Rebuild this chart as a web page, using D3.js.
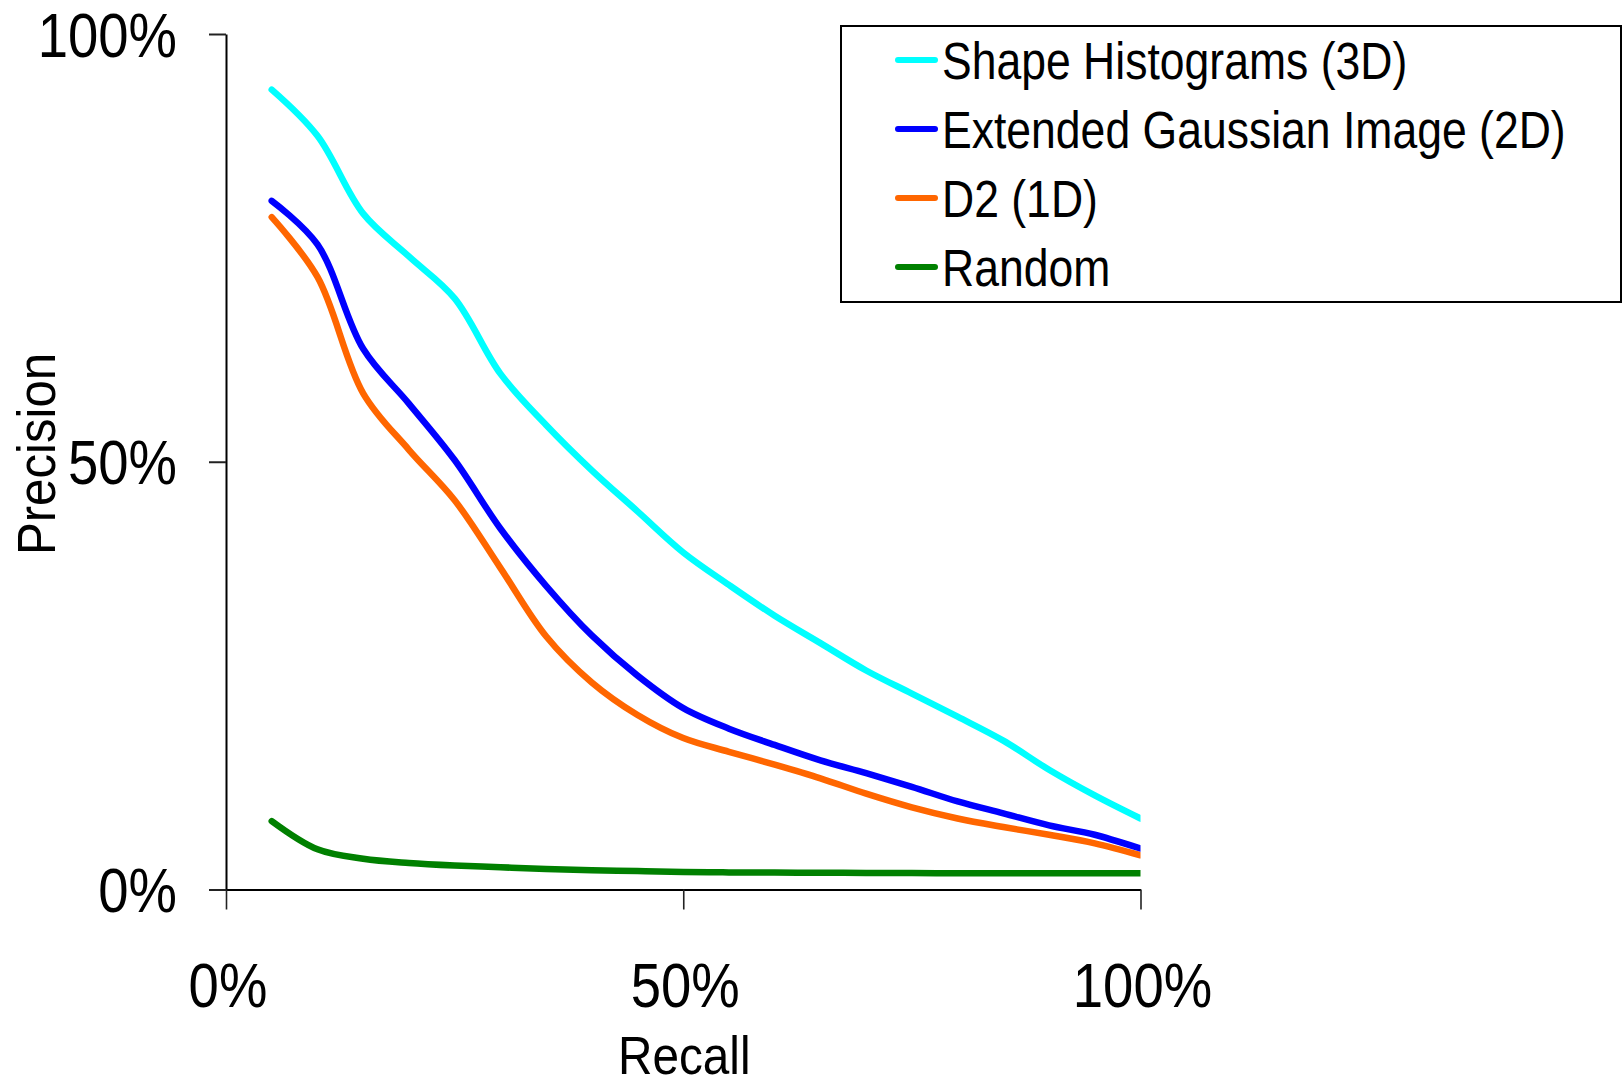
<!DOCTYPE html>
<html>
<head>
<meta charset="utf-8">
<title>Precision / Recall</title>
<script src="https://cdn.jsdelivr.net/npm/d3@7"></script>
<style>
  html, body { margin: 0; padding: 0; background: #ffffff; }
  svg { display: block; }
  text { font-family: "Liberation Sans", Arial, Helvetica, sans-serif; fill: #000; }
</style>
</head>
<body>
<svg id="chart" width="1624" height="1083"></svg>
<script>
// Recall levels (%) at which precision was measured
const recall = [5, 10, 15, 20, 25, 30, 35, 40, 45, 50, 55, 60, 65, 70, 75, 80, 85, 90, 95, 100];

// Precision (%) for each method
const shapeHistograms3D = [93.5, 88.1, 79.0, 74.0, 69.1, 60.3, 54.3, 49.0, 44.2, 39.4, 35.6, 32.0, 28.8, 25.6, 22.9, 20.2, 17.4, 14.0, 11.0, 8.3];
const extendedGaussian2D = [80.5, 75.4, 63.2, 56.8, 50.2, 42.2, 35.5, 29.7, 25.0, 21.2, 18.8, 16.9, 15.1, 13.6, 12.0, 10.3, 8.9, 7.5, 6.4, 4.8];
const d2Distribution1D = [78.6, 71.6, 58.0, 51.4, 45.5, 37.6, 29.6, 24.2, 20.4, 17.7, 16.1, 14.6, 13.0, 11.2, 9.6, 8.3, 7.3, 6.4, 5.4, 4.0];
const randomRetrieval = [8.0, 4.7, 3.6, 3.1, 2.8, 2.6, 2.4, 2.25, 2.15, 2.05, 2.0, 1.98, 1.96, 1.94, 1.92, 1.9, 1.9, 1.9, 1.9, 1.9];

const seriesNames = ["Shape Histograms (3D)", "Extended Gaussian Image (2D)", "D2 (1D)", "Random"];
const seriesColors = ["#00ffff", "#0000ff", "#ff6600", "#008000"];
const seriesValues = [shapeHistograms3D, extendedGaussian2D, d2Distribution1D, randomRetrieval];

// Axis ticks
const xTickValues = [0, 50, 100];
const xTickLabels = ["0%", "50%", "100%"];
const yTickValues = [0, 50, 100];
const yTickLabels = ["0%", "50%", "100%"];

const svg = d3.select("#chart");

const plot = { left: 226, right: 1140.5, top: 34, bottom: 889.5 };
const x = d3.scaleLinear().domain([0, 100]).range([plot.left, plot.right]);
const y = d3.scaleLinear().domain([0, 100]).range([plot.bottom, plot.top]);

const narrow = 0.865; // horizontal squeeze giving the condensed lettering

// Clip so the curves stop flush at the right end of the x axis
svg.append("defs").append("clipPath").attr("id", "plotClip")
  .append("rect")
  .attr("x", 0).attr("y", 0)
  .attr("width", plot.right).attr("height", plot.bottom);

// Y axis
const yAxis = d3.axisLeft(y)
  .tickValues(yTickValues)
  .tickSize(17)
  .tickSizeOuter(0)
  .tickFormat("");
const gy = svg.append("g").attr("transform", `translate(${plot.left},0)`).call(yAxis);
gy.select(".domain").attr("stroke", "#000").attr("stroke-width", 2);
gy.selectAll(".tick line").attr("stroke", "#222").attr("stroke-width", 2);

// X axis
const xAxis = d3.axisBottom(x)
  .tickValues(xTickValues)
  .tickSize(20)
  .tickSizeOuter(0)
  .tickFormat("");
const gx = svg.append("g").attr("transform", `translate(0,${plot.bottom})`).call(xAxis);
gx.select(".domain").attr("stroke", "#000").attr("stroke-width", 2);
gx.selectAll(".tick line").attr("stroke", "#222").attr("stroke-width", 1.6);

// Tick labels
svg.append("g").selectAll("text")
  .data(yTickValues)
  .join("text")
  .attr("transform", (d) => `translate(177,${y(d) + 22.5}) scale(${narrow},1)`)
  .attr("text-anchor", "end")
  .style("font-size", "63px")
  .text((d, i) => yTickLabels[i]);

svg.append("g").selectAll("text")
  .data(xTickValues)
  .join("text")
  .attr("transform", (d) => `translate(${x(d) + 2},1007) scale(${narrow},1)`)
  .attr("text-anchor", "middle")
  .style("font-size", "63px")
  .text((d, i) => xTickLabels[i]);

// Axis titles
svg.append("text")
  .attr("transform", `translate(${x(50) + 1},1074) scale(0.9,1)`)
  .attr("text-anchor", "middle")
  .style("font-size", "53px")
  .text("Recall");

svg.append("text")
  .attr("transform", `translate(55,454) rotate(-90) scale(0.91,1)`)
  .attr("text-anchor", "middle")
  .style("font-size", "54px")
  .text("Precision");

// Precision-recall curves
const line = d3.line()
  .x((d) => x(d[0]))
  .y((d) => y(d[1]))
  .curve(d3.curveCatmullRom.alpha(0.5));

const curves = svg.append("g").attr("clip-path", "url(#plotClip)");
// Draw from the bottom series up so the upper curves sit on top
for (let s = seriesValues.length - 1; s >= 0; s--) {
  const pts = recall.map((r, i) => [r, seriesValues[s][i]]);
  curves.append("path")
    .attr("d", line(pts))
    .attr("fill", "none")
    .attr("stroke", seriesColors[s])
    .attr("stroke-width", 6.5)
    .attr("stroke-linecap", "round")
    .attr("stroke-linejoin", "round");
}

// Legend
const legend = svg.append("g");
legend.append("rect")
  .attr("x", 841).attr("y", 26)
  .attr("width", 780).attr("height", 276)
  .attr("fill", "#fff")
  .attr("stroke", "#000")
  .attr("stroke-width", 2);

const rows = legend.selectAll("g.row")
  .data(seriesNames)
  .join("g")
  .attr("class", "row")
  .attr("transform", (d, i) => `translate(0,${79 + i * 69})`);

rows.append("line")
  .attr("x1", 898).attr("x2", 935)
  .attr("y1", -19).attr("y2", -19)
  .attr("stroke", (d, i) => seriesColors[i])
  .attr("stroke-width", 6)
  .attr("stroke-linecap", "round");

rows.append("text")
  .attr("transform", `translate(942,0) scale(${narrow},1)`)
  .style("font-size", "51.5px")
  .text((d) => d);
</script>
</body>
</html>
